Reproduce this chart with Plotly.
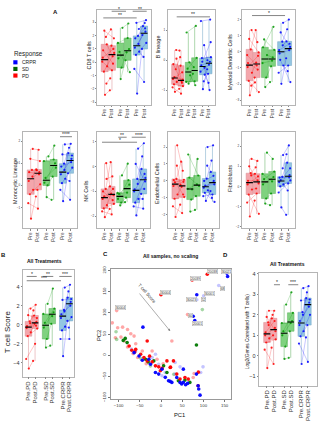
import plotly.graph_objects as go
import numpy as np

W, H = 322, 433
FONT = "Liberation Sans, Arial, sans-serif"

# ---------------- labels ----------------
resp_groups = ["PD", "SD", "CRPR"]
ticks_a = ["Pre", "Post", "Pre", "Post", "Pre", "Post"]
ticks_bd = ["Pre.PD", "Post.PD", "Pre.SD", "Post.SD", "Pre.CRPR", "Post.CRPR"]
legend_names = ["CRPR", "SD", "PD"]

# ---------------- A: CD8 T cells ----------------
cd8_pd_pre = [0.35, -2.44, 1.35, -0.7, 1.9, 0.05, -1.6, 2.37, -0.3, 0.9]
cd8_pd_post = [1.0, -2.1, 0.45, 0.7, 2.47, -0.6, -1.2, 1.8, 1.25, -0.1]
cd8_sd_pre = [0.3, -1.26, 2.59, 0.78, -0.4, 1.45]
cd8_sd_post = [0.99, 0.15, 2.91, -0.74, 0.75, 1.82]
cd8_cr_pre = [1.1, -2.35, 2.5, 0.55, 1.98, -0.5, 1.38, 2.96, 0.8, 1.8]
cd8_cr_post = [2.3, 1.0, 2.95, 1.45, 2.72, -1.48, 2.05, 3.16, 0.4, 2.55]
cd8_sig = [(1.96, 3.92, 3.83, "*"), (0.81, 5.39, 3.33, "**"), (4.84, 6.76, 3.83, "**")]

# ---------------- A: B lineage ----------------
bl_pd_pre = [-0.62, -1.05, 0.05, -0.8, -0.3, -0.9, 0.34, -0.56, -0.72, -0.13]
bl_pd_post = [-0.4, -0.95, -0.7, -0.86, 0.1, -1.11, 0.32, -0.64, -0.18, -0.75]
bl_sd_pre = [0.92, -0.78, -0.5, -0.28, -0.07, -0.72]
bl_sd_post = [1.14, -0.45, -0.83, 0.08, -0.23, -0.7]
bl_cr_pre = [1.3, -0.96, -0.25, 0.07, -0.7, -0.38, 0.5, -0.05, -0.48, -0.17]
bl_cr_post = [1.35, -0.3, -0.99, 0.1, -0.45, -0.15, 0.0, 0.6, -0.75, -0.05]
bl_sig = [(1.32, 6.56, 1.44, "**")]

# ---------------- A: Myeloid Dendritic Cells ----------------
mdc_pd_pre = [-0.95, -2.7, 1.35, -1.8, 0.15, -0.2, -2.1, 0.8, -1.3, -0.7]
mdc_pd_post = [-0.25, -1.6, 0.6, -2.5, 1.35, -0.85, -1.9, -0.04, -0.67, -1.1]
mdc_sd_pre = [0.28, -2.19, -0.2, 0.77, -1.6, -0.7]
mdc_sd_post = [1.55, -1.88, -0.35, 0.12, -0.9, -0.55]
mdc_cr_pre = [0.1, -1.99, 1.8, -0.5, 0.63, -1.3, 0.4, 1.2, -0.85, -0.1]
mdc_cr_post = [0.5, -0.4, 2.0, -1.88, 1.4, -0.85, 0.65, 0.3, -1.2, 0.1]
mdc_sig = [(1.35, 5.96, 2.25, "*")]

# ---------------- A: Monocytic Lineage ----------------
mono_pd_pre = [0.2, -1.5, 1.65, -0.4, 0.7, -0.8, 0.4, 1.2, -0.2, 0.6]
mono_pd_post = [0.6, -0.5, 1.61, 0.05, 0.68, -1.05, 0.72, 1.1, -0.2, 0.5]
mono_sd_pre = [0.12, -0.53, 1.31, 0.34, 0.0, 1.1]
mono_sd_post = [1.0, -0.65, 1.8, 0.8, 0.4, 1.17]
mono_cr_pre = [0.5, -0.71, 1.85, 0.1, 0.98, -0.2, 0.7, 1.4, 0.3, 0.85]
mono_cr_post = [1.2, 0.55, 1.88, 0.8, 1.7, -0.65, 1.46, 1.35, 0.2, 1.05]
mono_sig = [(5.02, 6.66, 2.2, "****")]

# ---------------- A: NK Cells ----------------
nk_pd_pre = [-1.3, -2.03, -0.5, -1.68, -0.9, -1.8, 0.13, -1.2, -1.55, -1.0]
nk_pd_post = [-0.9, -1.7, -0.4, -1.5, 0.17, -1.92, -0.8, -1.15, -1.09, -1.35]
nk_sd_pre = [-1.3, -1.56, -0.36, -1.1, -1.45, -1.06]
nk_sd_post = [-0.55, -1.43, 0.11, -0.73, -1.25, -1.05]
nk_cr_pre = [-1.0, -1.96, 0.71, -1.45, -0.5, -1.6, -0.7, 0.1, -1.3, -0.92]
nk_cr_post = [-0.3, -1.1, 0.93, -0.46, 0.4, -1.69, -0.1, -0.6, -1.3, -0.9]
nk_sig = [(2.92, 4.09, 1.17, "**"), (0.65, 5.54, 0.97, "*"), (4.8, 6.76, 1.17, "****")]

# ---------------- A: Endothelial Cells ----------------
endo_pd_pre = [-0.3, -2.13, 2.1, -1.05, 0.12, -1.5, 0.9, -0.08, -0.8, 0.05]
endo_pd_post = [-0.05, -1.4, 0.6, -0.95, 1.14, -1.9, -0.23, 0.07, -0.35, -0.8]
endo_sd_pre = [1.56, -1.81, -0.5, 0.2, -1.1, -0.46]
endo_sd_post = [0.32, -1.71, 1.3, -0.3, -0.9, -0.2]
endo_cr_pre = [-0.4, -1.18, 2.0, -0.7, 0.14, -0.9, 0.9, -0.28, -0.55, 0.0]
endo_cr_post = [0.0, -0.6, 2.1, -1.24, 1.2, -0.8, 0.53, -0.2, -1.0, 0.3]
endo_sig = []

# ---------------- A: Fibroblasts ----------------
fib_pd_pre = [0.1, -1.49, 1.37, -0.4, 0.66, -0.8, 0.55, 1.0, -0.15, 0.28]
fib_pd_post = [0.5, -0.7, 1.27, -1.36, 0.95, -0.35, 0.63, 0.15, -0.1, 0.31]
fib_sd_pre = [0.1, -0.85, 1.68, 0.36, -0.6, 0.63]
fib_sd_post = [0.47, -0.93, 1.37, 0.74, -0.35, 0.25]
fib_cr_pre = [0.22, -1.04, 1.56, 0.0, 0.48, -0.3, 0.9, 0.32, 0.1, 0.44]
fib_cr_post = [0.57, -1.41, 2.04, 0.3, 1.18, 0.15, 1.6, 0.9, -0.2, 0.45]
fib_sig = []

# ---------------- B: T cell Score ----------------
tcs_pd_pre = [-0.35, -4.6, 1.7, -1.2, 0.35, -3.6, 0.15, 1.0, -0.8, -0.15]
tcs_pd_post = [0.3, -3.8, 2.1, -0.4, 0.97, -2.0, 1.5, 0.7, 0.1, -0.1]
tcs_sd_pre = [-0.3, -2.4, 2.2, 0.2, -1.5, 1.13]
tcs_sd_post = [1.3, -2.2, 3.8, 1.7, 0.1, 0.9]
tcs_cr_pre = [0.7, -3.3, 3.9, -0.6, 1.55, -1.5, 1.4, 2.6, -0.2, 1.1]
tcs_cr_post = [2.4, 0.4, 4.2, 0.8, 3.5, -1.5, 2.85, 2.7, -0.3, 2.0]
tcs_sig = [(0.73, 2.25, 5.07, "*"), (3.15, 4.76, 5.07, "**"), (5.67, 7.55, 5.07, "***"), (0.73, 5.93, 4.62, "***")]

# ---------------- D: Log2(Genes correlated with T cells) ----------------
gct_pd_pre = [1.0, -0.6, 2.2, 0.65, 1.63, 0.3, 1.5, 1.9, 0.85, 1.14]
gct_pd_post = [1.36, 0.4, 2.2, 0.8, 2.0, -0.4, 1.83, 1.2, 1.0, 1.7]
gct_sd_pre = [1.0, -0.15, 2.5, 1.2, 0.45, 1.6]
gct_sd_post = [1.7, -0.1, 3.1, 2.1, 1.2, 1.6]
gct_cr_pre = [1.5, -0.4, 3.3, 0.95, 2.13, 0.6, 2.0, 2.7, 1.2, 1.7]
gct_cr_post = [2.6, 0.9, 3.4, 2.0, 3.1, -0.3, 2.82, 2.75, 1.5, 2.4]
gct_sig = [(2.06, 2.97, 3.47, "*"), (4.23, 5.74, 3.47, "***")]

# ---------------- C: PCA ----------------
pc_red_x = [-75.2, -69.0, -59.7, -48.1, -40.3, -32.6, -21.0, -13.2, -5.5, 2.2, 13.9, 21.6, -1.6, 29.3, 37.1,
            44.8, 56.4, 64.2, -32.6, -0.1, 73.4, 109.0, 87.4, -62.0, -27.0, 88.0, 22.4]
pc_red_y = [21.9, 11.8, 14.1, 2.4, -5.4, -13.2, -15.5, -24.9, -27.3, -30.4, -13.2, -28.8, -36.6, -13.2, -44.4,
            -56.2, -52.3, -56.2, 33.7, 143.0, 178.0, 191.4, -71.8, 8.0, -2.0, -39.8, -28.0]
pc_redp_x = [-115.0, -102.3, -90.6, -79.0, -71.3, -63.6, -107.7, -94.5, -86.8, -79.0, -59.7, -65.9, -44.2,
             -21.0, -9.4, 25.5, 62.6, -104.6, 75.8, 78.1, -55.0, -35.0, 5.0]
pc_redp_y = [76.6, 64.9, 66.5, 61.0, 50.8, 45.4, 41.5, 43.0, 33.7, 19.6, 27.4, 4.0, 10.2, 10.2, -9.3, 33.7,
             96.1, 105.5, -52.3, -42.9, -5.0, -20.0, -20.0]
pc_grn_x = [-84.4, -89.1, -36.5, -30.3, -17.1, 6.1, 13.9, 40.9, 56.4, 68.0, 83.5, -80.0]
pc_grn_y = [39.9, 35.2, -9.3, -15.5, -13.2, -24.9, -40.5, -60.1, -58.5, -64.0, 24.3, 30.0]
pc_grnp_x = [-106.1, -104.6, 97.4, -48.1, -25.0, 30.0]
pc_grnp_y = [55.5, 37.6, 107.9, -7.0, -25.0, -45.0]
pc_blu_x = [-63.6, -51.9, -44.2, -28.7, -24.9, -13.2, -5.5, 2.2, 17.7, 21.6, 25.5, 37.1, 52.6, 44.8, 48.7,
            52.6, 58.0, 62.6, 83.5, 87.4, 88.9, -42.7, 84.3, 75.8, 79.6, 155.5, 157.0, 92.0, 10.0]
pc_blu_y = [6.3, -1.5, -11.6, -9.3, -21.0, -40.5, -44.4, -32.7, -60.1, -61.6, -64.0, -52.3, -32.7, -64.0, -67.9,
            -64.0, -69.4, -66.3, -44.4, -71.8, -79.6, 66.5, 143.0, 92.2, 82.1, 193.8, 186.0, -94.0, -52.0]
pc_blup_x = [-13.2, -5.5, 10.0, 33.2, 44.8, 33.2, 99.0, 93.6, 136.1, 100.5, 99.0, 84.3, 2.2, -21.0, -60.0, -70.0]
pc_blup_y = [2.4, -21.0, -40.5, -17.1, -27.3, -44.4, -27.3, -40.5, 164.9, 140.7, 133.6, 131.3, -48.3, -5.4, 10.0, 15.0]
pc_lab_text = ["30004", "30004", "20039", "20038", "30021", "68", "30001", "30023", "52", "60", "20001"]
pc_lab_x = [-94.5, 10.0, 82.0, 122.2, 155.0, 145.4, 114.5, 71.9, 101.3, 70.4, 85.8]
pc_lab_y = [111.8, 148.5, 182.0, 197.7, 199.0, 158.6, 145.3, 131.3, 131.3, 94.6, 74.3]
arrow_tail = (-53.5, 149.2)
arrow_head = (21.6, 57.1)
arrow_text_pos = (-32.6, 146.9)

# ---------------- styling ----------------
COL = {"PD": "255,0,0", "SD": "0,150,0", "CRPR": "0,0,255"}
FILL = {"PD": "#F4A6AC", "SD": "#7FD27F", "CRPR": "#93C6E2"}
EDGE = {"PD": "#D98A90", "SD": "#5DAF5D", "CRPR": "#6FA3C4"}
FRAME = "#B5B5B5"
JIT_PRE = [-0.28, 0.05, 0.3, -0.12, 0.18, -0.35, 0.25, -0.05, 0.35, -0.22]
JIT_POST = [0.2, -0.3, 0.1, 0.32, -0.15, 0.0, -0.25, 0.28, -0.08, 0.15]
A_POS = [1, 2, 3.15, 4.15, 5.4, 6.4]
A_XR = [-0.05, 7.35]
BD_POS = [1, 2, 3.6, 4.6, 6.2, 7.2]


def ids(i):
    s = "" if i == 1 else str(i)
    return "x" + s, "y" + s, "xaxis" + s, "yaxis" + s


def px_x(p):
    return p / W


def px_y(p):
    return 1 - p / H


fig = go.Figure()
axes = {}
annotations = []
shapes = []


def add_box_panel(i, ylabel, data, frame, yr, ytv, lab, sig, pos, xr, ticktext,
                  bw, xfs, yfs, labfs, ms):
    xa, ya, xk, yk = ids(i)
    l, r, t, b = frame
    for gi, g in enumerate(resp_groups):
        pre, post = data[2 * gi], data[2 * gi + 1]
        for vals, p in ((pre, pos[2 * gi]), (post, pos[2 * gi + 1])):
            fig.add_trace(go.Box(x=[p] * len(vals), y=vals, width=bw, fillcolor=FILL[g],
                                 line=dict(color=EDGE[g], width=0.5), boxpoints=False,
                                 whiskerwidth=0, xaxis=xa, yaxis=ya, hoverinfo="skip"))
    for gi, g in enumerate(resp_groups):
        pre, post = data[2 * gi], data[2 * gi + 1]
        xs, ys = [], []
        for k in range(len(pre)):
            xs += [pos[2 * gi] + JIT_PRE[k % 10] * bw, pos[2 * gi + 1] + JIT_POST[k % 10] * bw, None]
            ys += [pre[k], post[k], None]
        fig.add_trace(go.Scatter(x=xs, y=ys, mode="lines+markers",
                                 line=dict(color=f"rgba({COL[g]},0.45)", width=0.5),
                                 marker=dict(size=ms, color=f"rgba({COL[g]},0.85)"),
                                 xaxis=xa, yaxis=ya, hoverinfo="skip"))
        for vals, p in ((pre, pos[2 * gi]), (post, pos[2 * gi + 1])):
            m = float(np.median(vals))
            fig.add_trace(go.Scatter(x=[p - bw / 2, p + bw / 2], y=[m, m], mode="lines",
                                     line=dict(color="black", width=1.1),
                                     xaxis=xa, yaxis=ya, hoverinfo="skip"))
    axes[xk] = dict(domain=[px_x(l), px_x(r)], range=xr, anchor=ya, showline=True, mirror=True,
                    linecolor=FRAME, linewidth=0.7, showgrid=False, zeroline=False,
                    ticks="outside", ticklen=1.5, tickwidth=0.5, tickcolor="#888",
                    tickvals=pos, ticktext=ticktext, tickangle=-90,
                    tickfont=dict(size=xfs, color="#333", family=FONT), fixedrange=True)
    axes[yk] = dict(domain=[px_y(b), px_y(t)], range=list(yr), anchor=xa, showline=True, mirror=True,
                    linecolor=FRAME, linewidth=0.7, showgrid=False, zeroline=False,
                    ticks="outside", ticklen=1.5, tickwidth=0.5, tickcolor="#888",
                    tickvals=ytv, tickfont=dict(size=yfs, color="#333", family=FONT), fixedrange=True)
    annotations.append(dict(x=px_x(lab[0]), y=px_y(lab[1]), xref="paper", yref="paper", text=ylabel,
                            textangle=-90, showarrow=False, font=dict(size=labfs, color="#222", family=FONT),
                            xanchor="center", yanchor="middle"))
    for (x0, x1, y, txt) in sig:
        shapes.append(dict(type="line", xref=xa, yref=ya, x0=x0, x1=x1, y0=y, y1=y,
                           line=dict(color="#333", width=0.6)))
        annotations.append(dict(x=(x0 + x1) / 2, y=y, xref=xa, yref=ya, text=txt, showarrow=False,
                                yanchor="bottom", yshift=-2.5, font=dict(size=5, color="#222", family=FONT)))


a_panels = [
    (1, "CD8 T cells", [cd8_pd_pre, cd8_pd_post, cd8_sd_pre, cd8_sd_post, cd8_cr_pre, cd8_cr_post],
     (97, 151, 7, 103), (-3.19, 3.93), [-3, -2, -1, 0, 1, 2, 3], (89, 53), cd8_sig),
    (2, "B lineage", [bl_pd_pre, bl_pd_post, bl_sd_pre, bl_sd_post, bl_cr_pre, bl_cr_post],
     (168, 215, 7, 103), (-1.48, 1.67), [-1, 0, 1], (158, 45), bl_sig),
    (3, "Myeloid Dendritic Cells", [mdc_pd_pre, mdc_pd_post, mdc_sd_pre, mdc_sd_post, mdc_cr_pre, mdc_cr_post],
     (242, 295, 7, 103), (-3.29, 2.6), [-3, -2, -1, 0, 1, 2], (230, 60), mdc_sig),
    (4, "Monocytic Lineage", [mono_pd_pre, mono_pd_post, mono_sd_pre, mono_sd_post, mono_cr_pre, mono_cr_post],
     (23, 77, 131, 228), (-1.94, 2.39), [-1, 0, 1, 2], (15, 180), mono_sig),
    (5, "NK Cells", [nk_pd_pre, nk_pd_post, nk_sd_pre, nk_sd_post, nk_cr_pre, nk_cr_post],
     (97, 150, 131, 228), (-2.48, 1.36), [-2, -1, 0, 1], (86, 190), nk_sig),
    (6, "Endothelial Cells", [endo_pd_pre, endo_pd_post, endo_sd_pre, endo_sd_post, endo_cr_pre, endo_cr_post],
     (168, 219, 131, 228), (-2.8, 2.86), [-2, -1, 0, 1, 2], (157, 183), endo_sig),
    (7, "Fibroblasts", [fib_pd_pre, fib_pd_post, fib_sd_pre, fib_sd_post, fib_cr_pre, fib_cr_post],
     (242, 295, 131, 228), (-2.08, 2.68), [-2, -1, 0, 1, 2], (230, 178), fib_sig),
]
for (i, name, data, frame, yr, ytv, lab, sig) in a_panels:
    add_box_panel(i, name, data, frame, yr, ytv, lab, sig, A_POS, A_XR, ticks_a,
                  bw=0.95, xfs=4.6, yfs=3, labfs=5.5, ms=2.2)

add_box_panel(8, "T cell Score", [tcs_pd_pre, tcs_pd_post, tcs_sd_pre, tcs_sd_post, tcs_cr_pre, tcs_cr_post],
              (23, 74, 270, 378), (-5.45, 5.76), [-4, -2, 0, 2, 4], (7, 333), tcs_sig,
              BD_POS, [0.17, 7.9], ticks_bd, bw=1.0, xfs=6, yfs=5.5, labfs=8, ms=2.2)
add_box_panel(10, "Log2(Genes Correlated with T cells)",
              [gct_pd_pre, gct_pd_post, gct_sd_pre, gct_sd_post, gct_cr_pre, gct_cr_post],
              (259, 317, 273, 387), (-1.45, 4.05), [-1, 0, 1, 2, 3, 4], (247, 332), gct_sig,
              BD_POS, [-0.21, 8.58], ticks_bd, bw=1.0, xfs=6, yfs=5.5, labfs=4.7, ms=2.2)

# ---------------- C: PCA scatter ----------------
xa, ya, xk, yk = ids(9)
for xs, ys, c in ((pc_redp_x, pc_redp_y, "rgba(255,0,0,0.35)"),
                  (pc_grnp_x, pc_grnp_y, "rgba(0,140,0,0.35)"),
                  (pc_blup_x, pc_blup_y, "rgba(60,60,255,0.3)"),
                  (pc_grn_x, pc_grn_y, "rgba(0,120,0,0.95)"),
                  (pc_red_x, pc_red_y, "rgba(255,0,0,0.95)"),
                  (pc_blu_x, pc_blu_y, "rgba(0,0,255,0.95)")):
    fig.add_trace(go.Scatter(x=xs, y=ys, mode="markers", marker=dict(size=3.6, color=c),
                             xaxis=xa, yaxis=ya, hoverinfo="skip"))
axes[xk] = dict(domain=[px_x(111), px_x(231)], range=[-118, 165], anchor=ya, showline=True, mirror=True,
                linecolor="#999", linewidth=0.7, showgrid=False, zeroline=False, ticks="outside",
                ticklen=2, tickwidth=0.5, tickcolor="#777", tickvals=[-100, -50, 0, 50, 100, 150],
                tickfont=dict(size=4.3, color="#333", family=FONT), fixedrange=True)
axes[yk] = dict(domain=[px_y(401), px_y(269)], range=[-104, 204], anchor=xa, showline=True, mirror=True,
                linecolor="#999", linewidth=0.7, showgrid=False, zeroline=False, ticks="outside",
                ticklen=2, tickwidth=0.5, tickcolor="#777", tickvals=[-100, -50, 0, 50, 100, 150, 200],
                tickangle=-90, tickfont=dict(size=4.3, color="#333", family=FONT), fixedrange=True)
for t, x, y in zip(pc_lab_text, pc_lab_x, pc_lab_y):
    annotations.append(dict(x=x, y=y, xref=xa, yref=ya, text=t, showarrow=False,
                            font=dict(size=3.4, color="#333", family=FONT), bgcolor="white",
                            bordercolor="#999", borderwidth=0.4, borderpad=0.3))
annotations.append(dict(x=arrow_head[0], y=arrow_head[1], ax=arrow_tail[0], ay=arrow_tail[1],
                        xref=xa, yref=ya, axref=xa, ayref=ya, text="", showarrow=True,
                        arrowhead=2, arrowsize=0.8, arrowwidth=0.6, arrowcolor="#777"))
annotations.append(dict(x=arrow_text_pos[0], y=arrow_text_pos[1], xref=xa, yref=ya, text="T cell Score",
                        showarrow=False, textangle=49, font=dict(size=4.6, color="#333", family=FONT)))

# ---------------- free text ----------------
def txt(x, y, s, size, bold=False, angle=0, xanchor="center", color="#111"):
    annotations.append(dict(x=px_x(x), y=px_y(y), xref="paper", yref="paper",
                            text=f"<b>{s}</b>" if bold else s, showarrow=False, textangle=angle,
                            xanchor=xanchor, yanchor="middle",
                            font=dict(size=size, color=color, family=FONT)))


txt(55, 9.5, "A", 6, bold=True)
txt(3.5, 255, "B", 6, bold=True)
txt(105, 254, "C", 6, bold=True)
txt(225, 255, "D", 6, bold=True)
txt(45, 261, "All Treatments", 5, bold=True)
txt(170, 256, "All samples, no scaling", 5, bold=True)
txt(287, 264, "All Treatments", 5, bold=True)
txt(180, 417, "PC1", 5.8)
txt(99, 337, "PC2", 5.8, angle=-90)

# legend
txt(11.5, 51.7, "Response", 6.3, xanchor="left", color="#222")
leg_colors = ["#0000FF", "#006400", "#FF0000"]
for k, (nm, c) in enumerate(zip(legend_names, leg_colors)):
    yc = 60 + k * 6.7
    shapes.append(dict(type="rect", xref="paper", yref="paper", x0=px_x(13.3), x1=px_x(17.5),
                       y0=px_y(yc + 2.1), y1=px_y(yc - 2.1), fillcolor=c, line=dict(width=0)))
    txt(20, yc, nm, 5, xanchor="left", color="#222")

fig.update_layout(width=W, height=H, margin=dict(l=0, r=0, t=0, b=0),
                  paper_bgcolor="white", plot_bgcolor="white", showlegend=False,
                  boxmode="overlay", font=dict(family=FONT),
                  annotations=annotations, shapes=shapes, **axes)
fig.write_html("out.html")
